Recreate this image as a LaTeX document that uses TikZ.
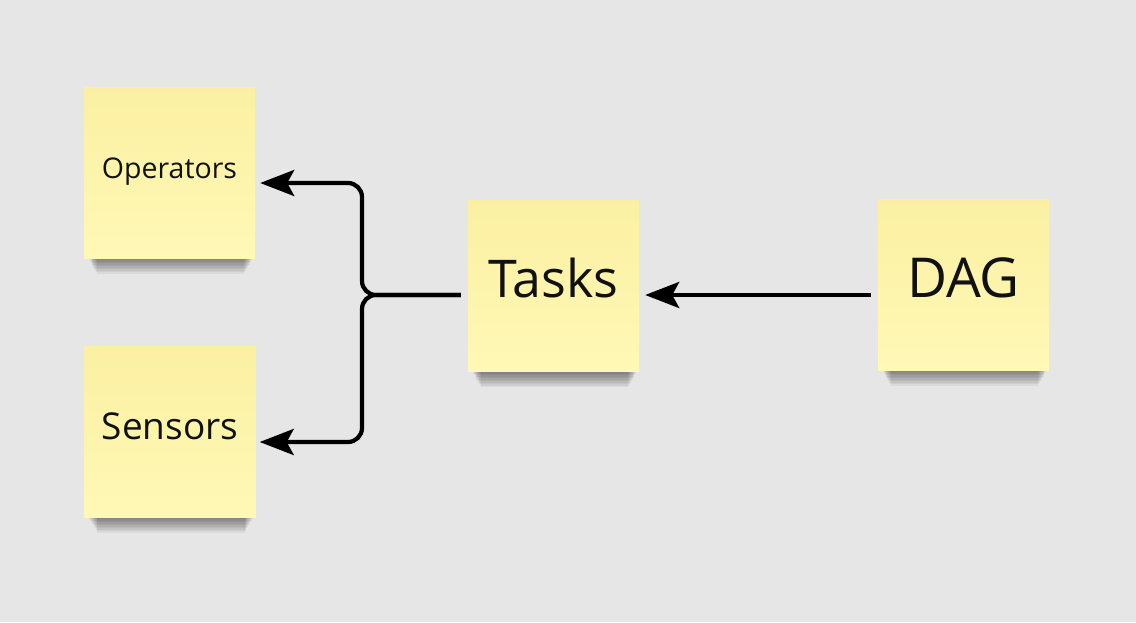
\documentclass[tikz,border=0pt]{standalone}
\usepackage{fontspec}
\setmainfont{Open Sans}
\usetikzlibrary{arrows.meta,calc,backgrounds}
\definecolor{board}{HTML}{E6E6E6}
\definecolor{notetop}{HTML}{FBF0A2}
\definecolor{notebot}{HTML}{FFF8B6}
\definecolor{ink}{HTML}{111111}
\tikzset{
  note/.style={rectangle, minimum width=171pt, minimum height=171pt, inner sep=0pt,
    top color=notetop, bottom color=notebot, text=ink},
  link/.style={line width=4.2pt, draw=black, rounded corners=14pt,
    -{Stealth[length=34pt,width=26pt,inset=7pt]}},
}
% soft shadow under the bottom edge of a sticky note
\newcommand\noteshadow[1]{%
  \foreach \k in {0,...,9}{%
    \fill[black, opacity=0.05]
      ($(#1.south west)+(5+\k*0.9,-6)$) rectangle ($(#1.south east)+(-3-\k*0.9,2+\k*1.5)$);
  }%
}
\begin{document}
\begin{tikzpicture}[x=1pt,y=-1pt]
\useasboundingbox (0,0) rectangle (1136,622);

% sticky notes
\node[note, font=\fontsize{28.5}{32}\selectfont, text height=21.4pt, text depth=10.4pt]
  (ops)   at (169.5,172.5) {Operators};
\node[note, font=\fontsize{37}{42}\selectfont, text height=27.75pt, text depth=12.75pt]
  (sen)   at (170,431.5)   {Sensors};
\node[note, font=\fontsize{52}{58}\selectfont, text height=39pt, text depth=17pt]
  (tasks) at (553.5,286)   {Tasks};
\node[note, font=\fontsize{55}{60}\selectfont, text height=41.25pt, text depth=16.25pt]
  (dag)   at (963.5,284.5) {DAG};

\begin{pgfonlayer}{background}
  \fill[board] (0,0) rectangle (1136,622);
  \noteshadow{ops}
  \noteshadow{sen}
  \noteshadow{tasks}
  \noteshadow{dag}
\end{pgfonlayer}

% connectors
\coordinate (fork) at (362,295);
\draw[link] ($(tasks.west)+(-7,9)$) -- (fork) |- ($(ops.east)+(5,10.5)$);
\draw[link] ($(tasks.west)+(-7,9)$) -- (fork) |- ($(sen.east)+(4,10.5)$);
\draw[link] ($(dag.west)+(-7,10.5)$) -- ($(tasks.east)+(6,9)$);
\end{tikzpicture}
\end{document}
